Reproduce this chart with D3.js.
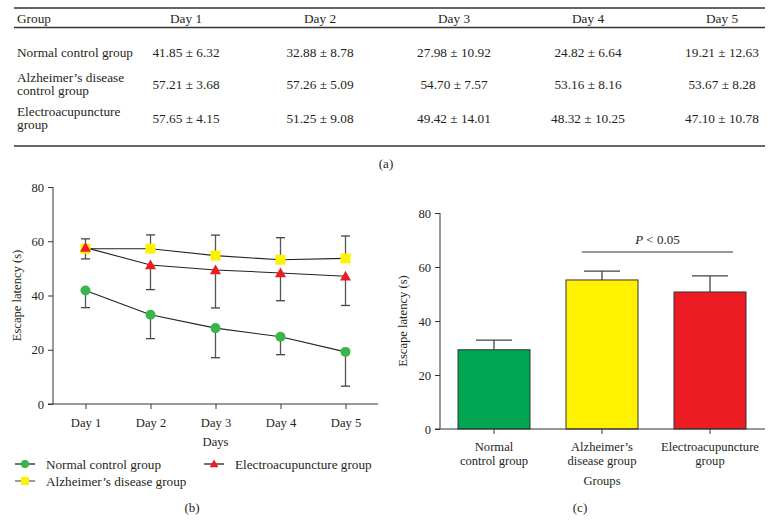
<!DOCTYPE html>
<html>
<head>
<meta charset="utf-8">
<script src="https://cdn.jsdelivr.net/npm/d3@7"></script>
<style>
  html, body { margin: 0; padding: 0; background: #fff; }
  svg { display: block; }
  text { font-family: "Liberation Serif", "DejaVu Serif", serif; fill: #231f20; }
</style>
</head>
<body>
<svg id="chart" width="773" height="521"></svg>
<script>
// ---------- data ----------
const days = ["Day 1", "Day 2", "Day 3", "Day 4", "Day 5"];
const tableGroups = [["Normal control group"], ["Alzheimer’s disease", "control group"], ["Electroacupuncture", "group"]];
const normalMean = [41.85, 32.88, 27.98, 24.82, 19.21];
const normalSD   = [6.32, 8.78, 10.92, 6.64, 12.63];
const adMean     = [57.21, 57.26, 54.70, 53.16, 53.67];
const adSD       = [3.68, 5.09, 7.57, 8.16, 8.28];
const eaMean     = [57.65, 51.25, 49.42, 48.32, 47.10];
const eaSD       = [4.15, 9.08, 14.01, 10.25, 10.78];
const legendNames = ["Normal control group", "Alzheimer’s disease group", "Electroacupuncture group"];
const yTicks = [0, 20, 40, 60, 80];
const barGroups = [["Normal", "control group"], ["Alzheimer’s", "disease group"], ["Electroacupuncture", "group"]];
const barMeans = [29.35, 55.20, 50.75];
const barErr   = [3.6, 3.3, 5.95];
const sigLabel = "< 0.05";

const svg = d3.select("#chart");
const ink = "#231f20", axisCol = "#333";

// ---------- (a) table ----------
const tbl = svg.append("g");
const tX0 = 14, tX1 = 765;
const colX = d3.scalePoint().domain(days).range([186, 722]);
[8, 27.5, 146].forEach(y => tbl.append("line").attr("x1", tX0).attr("x2", tX1)
  .attr("y1", y).attr("y2", y).attr("stroke", "#333").attr("stroke-width", 1.4));
const fsT = 13.3;
tbl.append("text").attr("x", 17).attr("y", 18).attr("dy", "0.35em").attr("font-size", fsT).text("Group");
days.forEach(d => tbl.append("text").attr("x", colX(d)).attr("y", 18).attr("dy", "0.35em")
  .attr("text-anchor", "middle").attr("font-size", fsT).text(d));
const rowY = [52, 84, 118];
const tableData = [[normalMean, normalSD], [adMean, adSD], [eaMean, eaSD]];
tableGroups.forEach((lines, i) => {
  const n = lines.length;
  lines.forEach((l, j) => tbl.append("text").attr("x", 17)
    .attr("y", rowY[i] + (j - (n - 1) / 2) * 13.5).attr("dy", "0.35em")
    .attr("font-size", fsT).text(l));
  days.forEach((d, k) => tbl.append("text").attr("x", colX(d)).attr("y", rowY[i]).attr("dy", "0.35em")
    .attr("text-anchor", "middle").attr("font-size", fsT)
    .text(tableData[i][0][k].toFixed(2) + " ± " + tableData[i][1][k].toFixed(2)));
});
svg.append("text").attr("x", 386).attr("y", 163).attr("dy", "0.35em").attr("text-anchor", "middle")
  .attr("font-size", 13).text("(a)");

// ---------- (b) line chart ----------
const gB = svg.append("g");
const xB = d3.scalePoint().domain(days).range([53, 378]).padding(0.5);
const yB = d3.scaleLinear().domain([0, 80]).range([404, 187]);
const fsA = 12.6;

const yAxB = gB.append("g").attr("transform", "translate(53,0)")
  .call(d3.axisLeft(yB).tickValues(yTicks).tickSize(5).tickPadding(4));
yAxB.select(".domain").remove();
yAxB.selectAll("line").attr("stroke", axisCol);
yAxB.selectAll("text").attr("font-size", fsA).attr("font-family", "Liberation Serif").attr("fill", ink);
gB.append("line").attr("x1", 53).attr("x2", 53).attr("y1", yB(80)).attr("y2", yB(0)).attr("stroke", axisCol);
const xAxB = gB.append("g").attr("transform", "translate(0,404)")
  .call(d3.axisBottom(xB).tickSize(5).tickPadding(9));
xAxB.select(".domain").remove();
xAxB.selectAll("line").attr("stroke", axisCol);
xAxB.selectAll("text").attr("font-size", fsA).attr("font-family", "Liberation Serif").attr("fill", ink);
gB.append("line").attr("x1", 48).attr("x2", 378).attr("y1", 404).attr("y2", 404).attr("stroke", axisCol);
gB.append("text").attr("x", xB("Day 3")).attr("y", 442).attr("dy", "0.35em").attr("text-anchor", "middle")
  .attr("font-size", fsA).text("Days");
gB.append("text").attr("transform", "translate(17," + (yB(40)) + ") rotate(-90)").attr("dy", "0.35em")
  .attr("text-anchor", "middle").attr("font-size", fsA).text("Escape latency (s)");

const series = [
  { mean: normalMean, sd: normalSD, dir: -1, color: "#3ab54a", shape: "circle" },
  { mean: adMean, sd: adSD, dir: 1, color: "#fff200", shape: "square" },
  { mean: eaMean, sd: eaSD, dir: -1, color: "#ed1c24", shape: "triangle" }
];
const line = d3.line().x((d, i) => xB(days[i])).y(d => yB(d));
series.forEach(s => gB.append("path").attr("d", line(s.mean)).attr("fill", "none")
  .attr("stroke", "#222").attr("stroke-width", 1.1));
series.forEach(s => {
  s.mean.forEach((m, i) => {
    const x = xB(days[i]), e = yB(m + s.dir * s.sd[i]);
    gB.append("line").attr("x1", x).attr("x2", x).attr("y1", yB(m)).attr("y2", e)
      .attr("stroke", "#555").attr("stroke-width", 1.3);
    gB.append("line").attr("x1", x - 4.5).attr("x2", x + 4.5).attr("y1", e).attr("y2", e)
      .attr("stroke", "#444").attr("stroke-width", 1.3);
  });
});
function marker(g, shape, x, y, color, size) {
  if (shape === "circle") g.append("circle").attr("cx", x).attr("cy", y).attr("r", size / 2).attr("fill", color);
  else if (shape === "square") g.append("rect").attr("x", x - size / 2).attr("y", y - size / 2)
    .attr("width", size).attr("height", size).attr("fill", color);
  else g.append("path").attr("d", `M${x},${y - size * 0.55}L${x + size * 0.55},${y + size * 0.42}L${x - size * 0.55},${y + size * 0.42}Z`)
    .attr("fill", color);
}
[series[1], series[2], series[0]].forEach(s => s.mean.forEach((m, i) =>
  marker(gB, s.shape, xB(days[i]), yB(m), s.color, 10)));

// legend
const legPos = [[15, 464], [15, 481], [204, 464]];
series.forEach((s, i) => {
  const [lx, ly] = legPos[i];
  gB.append("line").attr("x1", lx).attr("x2", lx + 20).attr("y1", ly).attr("y2", ly)
    .attr("stroke", i === 1 ? "#666" : "#222").attr("stroke-width", 1.3);
  marker(gB, s.shape, lx + 10, ly, s.color, 8);
  gB.append("text").attr("x", lx + 31).attr("y", ly).attr("dy", "0.35em").attr("font-size", 13.2).text(legendNames[i]);
});
svg.append("text").attr("x", 192).attr("y", 507).attr("dy", "0.35em").attr("text-anchor", "middle")
  .attr("font-size", 13).text("(b)");

// ---------- (c) bar chart ----------
const gC = svg.append("g");
const xC = d3.scaleBand().domain(barGroups.map(d => d.join(" "))).range([440, 764])
  .paddingInner(1 / 3).paddingOuter(1 / 6);
const yC = d3.scaleLinear().domain([0, 80]).range([429, 213]);
const barColors = ["#00a651", "#fff200", "#ed1c24"];

const yAxC = gC.append("g").attr("transform", "translate(440,0)")
  .call(d3.axisLeft(yC).tickValues(yTicks).tickSize(5).tickPadding(4));
yAxC.select(".domain").remove();
yAxC.selectAll("line").attr("stroke", axisCol);
yAxC.selectAll("text").attr("font-size", fsA).attr("font-family", "Liberation Serif").attr("fill", ink);
gC.append("line").attr("x1", 440).attr("x2", 440).attr("y1", yC(80)).attr("y2", yC(0)).attr("stroke", axisCol);

barGroups.forEach((g, i) => {
  const key = g.join(" ");
  const x = xC(key), w = xC.bandwidth(), cx = x + w / 2;
  gC.append("line").attr("x1", cx).attr("x2", cx).attr("y1", yC(barMeans[i])).attr("y2", yC(barMeans[i] + barErr[i]))
    .attr("stroke", "#444").attr("stroke-width", 1.3);
  gC.append("line").attr("x1", cx - w / 4).attr("x2", cx + w / 4)
    .attr("y1", yC(barMeans[i] + barErr[i])).attr("y2", yC(barMeans[i] + barErr[i]))
    .attr("stroke", "#444").attr("stroke-width", 1.3);
  gC.append("rect").attr("x", x).attr("y", yC(barMeans[i])).attr("width", w)
    .attr("height", yC(0) - yC(barMeans[i])).attr("fill", barColors[i])
    .attr("stroke", "#333").attr("stroke-width", 1);
  gC.append("line").attr("x1", cx).attr("x2", cx).attr("y1", 429).attr("y2", 434).attr("stroke", axisCol);
  g.forEach((l, j) => gC.append("text").attr("x", cx).attr("y", 447 + j * 14).attr("dy", "0.35em")
    .attr("text-anchor", "middle").attr("font-size", fsA).text(l));
});
gC.append("line").attr("x1", 435).attr("x2", 765).attr("y1", 429).attr("y2", 429).attr("stroke", axisCol);
gC.append("text").attr("x", xC.step() * 0 + xC(barGroups[1].join(" ")) + xC.bandwidth() / 2).attr("y", 481)
  .attr("dy", "0.35em").attr("text-anchor", "middle").attr("font-size", fsA).text("Groups");
gC.append("text").attr("transform", "translate(403," + yC(40) + ") rotate(-90)").attr("dy", "0.35em")
  .attr("text-anchor", "middle").attr("font-size", fsA).text("Escape latency (s)");

// significance
const sx1 = xC(barGroups[1].join(" ")) + xC.bandwidth() * 0.22;
const sx2 = xC(barGroups[2].join(" ")) + xC.bandwidth() * 0.82;
gC.append("line").attr("x1", sx1).attr("x2", sx2).attr("y1", 252).attr("y2", 252).attr("stroke", "#333").attr("stroke-width", 1.1);
const st = gC.append("text").attr("x", (sx1 + sx2) / 2).attr("y", 239).attr("dy", "0.35em")
  .attr("text-anchor", "middle").attr("font-size", 13);
st.append("tspan").attr("font-style", "italic").text("P");
st.append("tspan").text(" " + sigLabel);
svg.append("text").attr("x", 580).attr("y", 507).attr("dy", "0.35em").attr("text-anchor", "middle")
  .attr("font-size", 13).text("(c)");
</script>
</body>
</html>
